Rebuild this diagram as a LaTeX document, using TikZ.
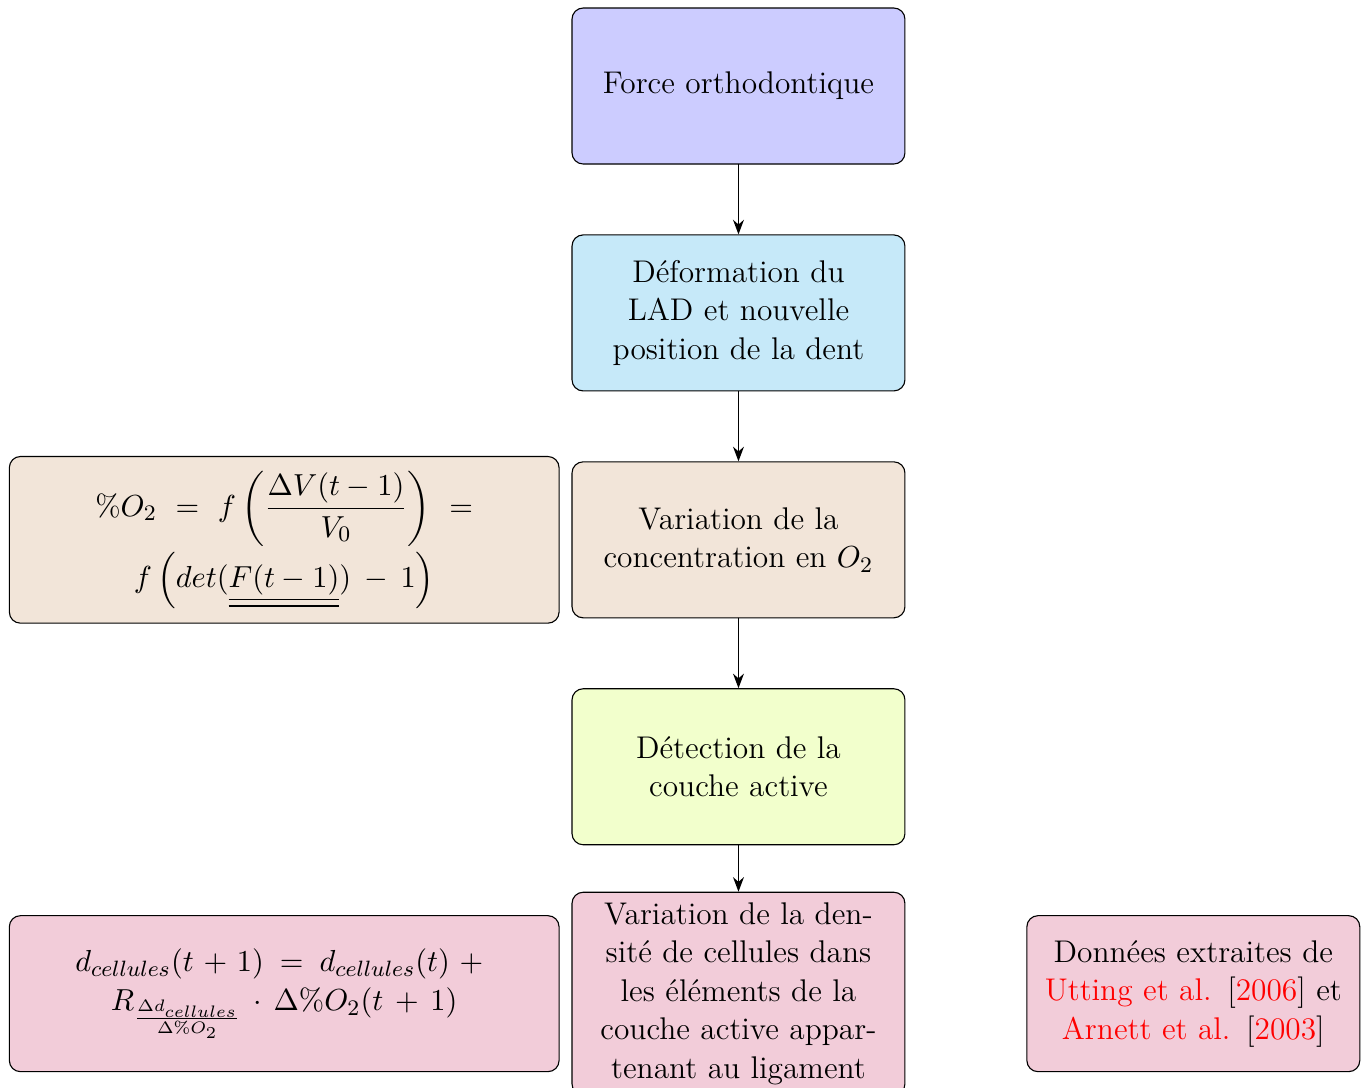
\documentclass[tikz,border=0pt,11pt]{standalone}
\usepackage{amsmath,amssymb}
\usepackage{tikz}
\usetikzlibrary{arrows.meta,positioning}

\definecolor{bleuclair}{RGB}{198,233,249}

\begin{document}
\begin{tikzpicture}[>=Stealth,line cap=round,line join=round,
    etape/.style={draw,rounded corners,align=center,
      font=\fontsize{11.3pt}{13.9pt}\selectfont,
      minimum width=4.215cm,minimum height=1.975cm,text width=3.9cm},
    formule/.style={etape,minimum width=6.96cm,text width=6.7cm},
    fleche/.style={->,line width=.5pt},
    node distance=2.873cm]
    \useasboundingbox (0,0) rectangle (17.27,-13.77);

    % The main chain, top to bottom.
    \node[etape,fill=blue!20] (force) at (9.35,-1.089) {Force orthodontique};
    \node[etape,fill=bleuclair,on grid,below=of force] (deform)
      {Déformation du\\LAD et nouvelle\\position de la dent};
    \node[etape,fill=brown!20,on grid,below=of deform] (oxygene)
      {Variation de la\\concentration en $O_2$};
    \node[etape,fill=lime!20,on grid,below=of oxygene] (couche)
      {Détection de la\\couche active};
    \node[etape,fill=purple!20,on grid,below=of couche] (densite)
      {Variation de la den-\\sité de cellules dans\\les éléments de la\\couche active appar-\\tenant au ligament};

    % The formulas on the left.
    \node[formule,fill=brown!20,minimum height=2.11cm,left=0.15cm of oxygene] (eqoxy)
      {$\%O_2 = f\left(\dfrac{\Delta V(t-1)}{V_0}\right) =$\\[1pt]
       $f\,\Bigl(det(\underline{\underline{F(t-1)}})-1\Bigr)$};
    \node[formule,fill=purple!20,left=0.15cm of densite] (eqdens)
      {$d_{cellules}(t+1) = d_{cellules}(t) +{}$\\
       $R_{\frac{\Delta d_{cellules}}{\Delta\%O_2}} \cdot \Delta\%O_2(t+1)$};

    % The sources on the right.
    \node[etape,fill=purple!20,right=1.53cm of densite] (donnees)
      {Données extraites de\\\textcolor{red}{Utting et al.} [\textcolor{red}{2006}] et\\
       \textcolor{red}{Arnett et al.} [\textcolor{red}{2003}]};

    \draw[fleche] (force) -- (deform);
    \draw[fleche] (deform) -- (oxygene);
    \draw[fleche] (oxygene) -- (couche);
    \draw[fleche] (couche) -- (densite);
  \end{tikzpicture}
\end{document}
